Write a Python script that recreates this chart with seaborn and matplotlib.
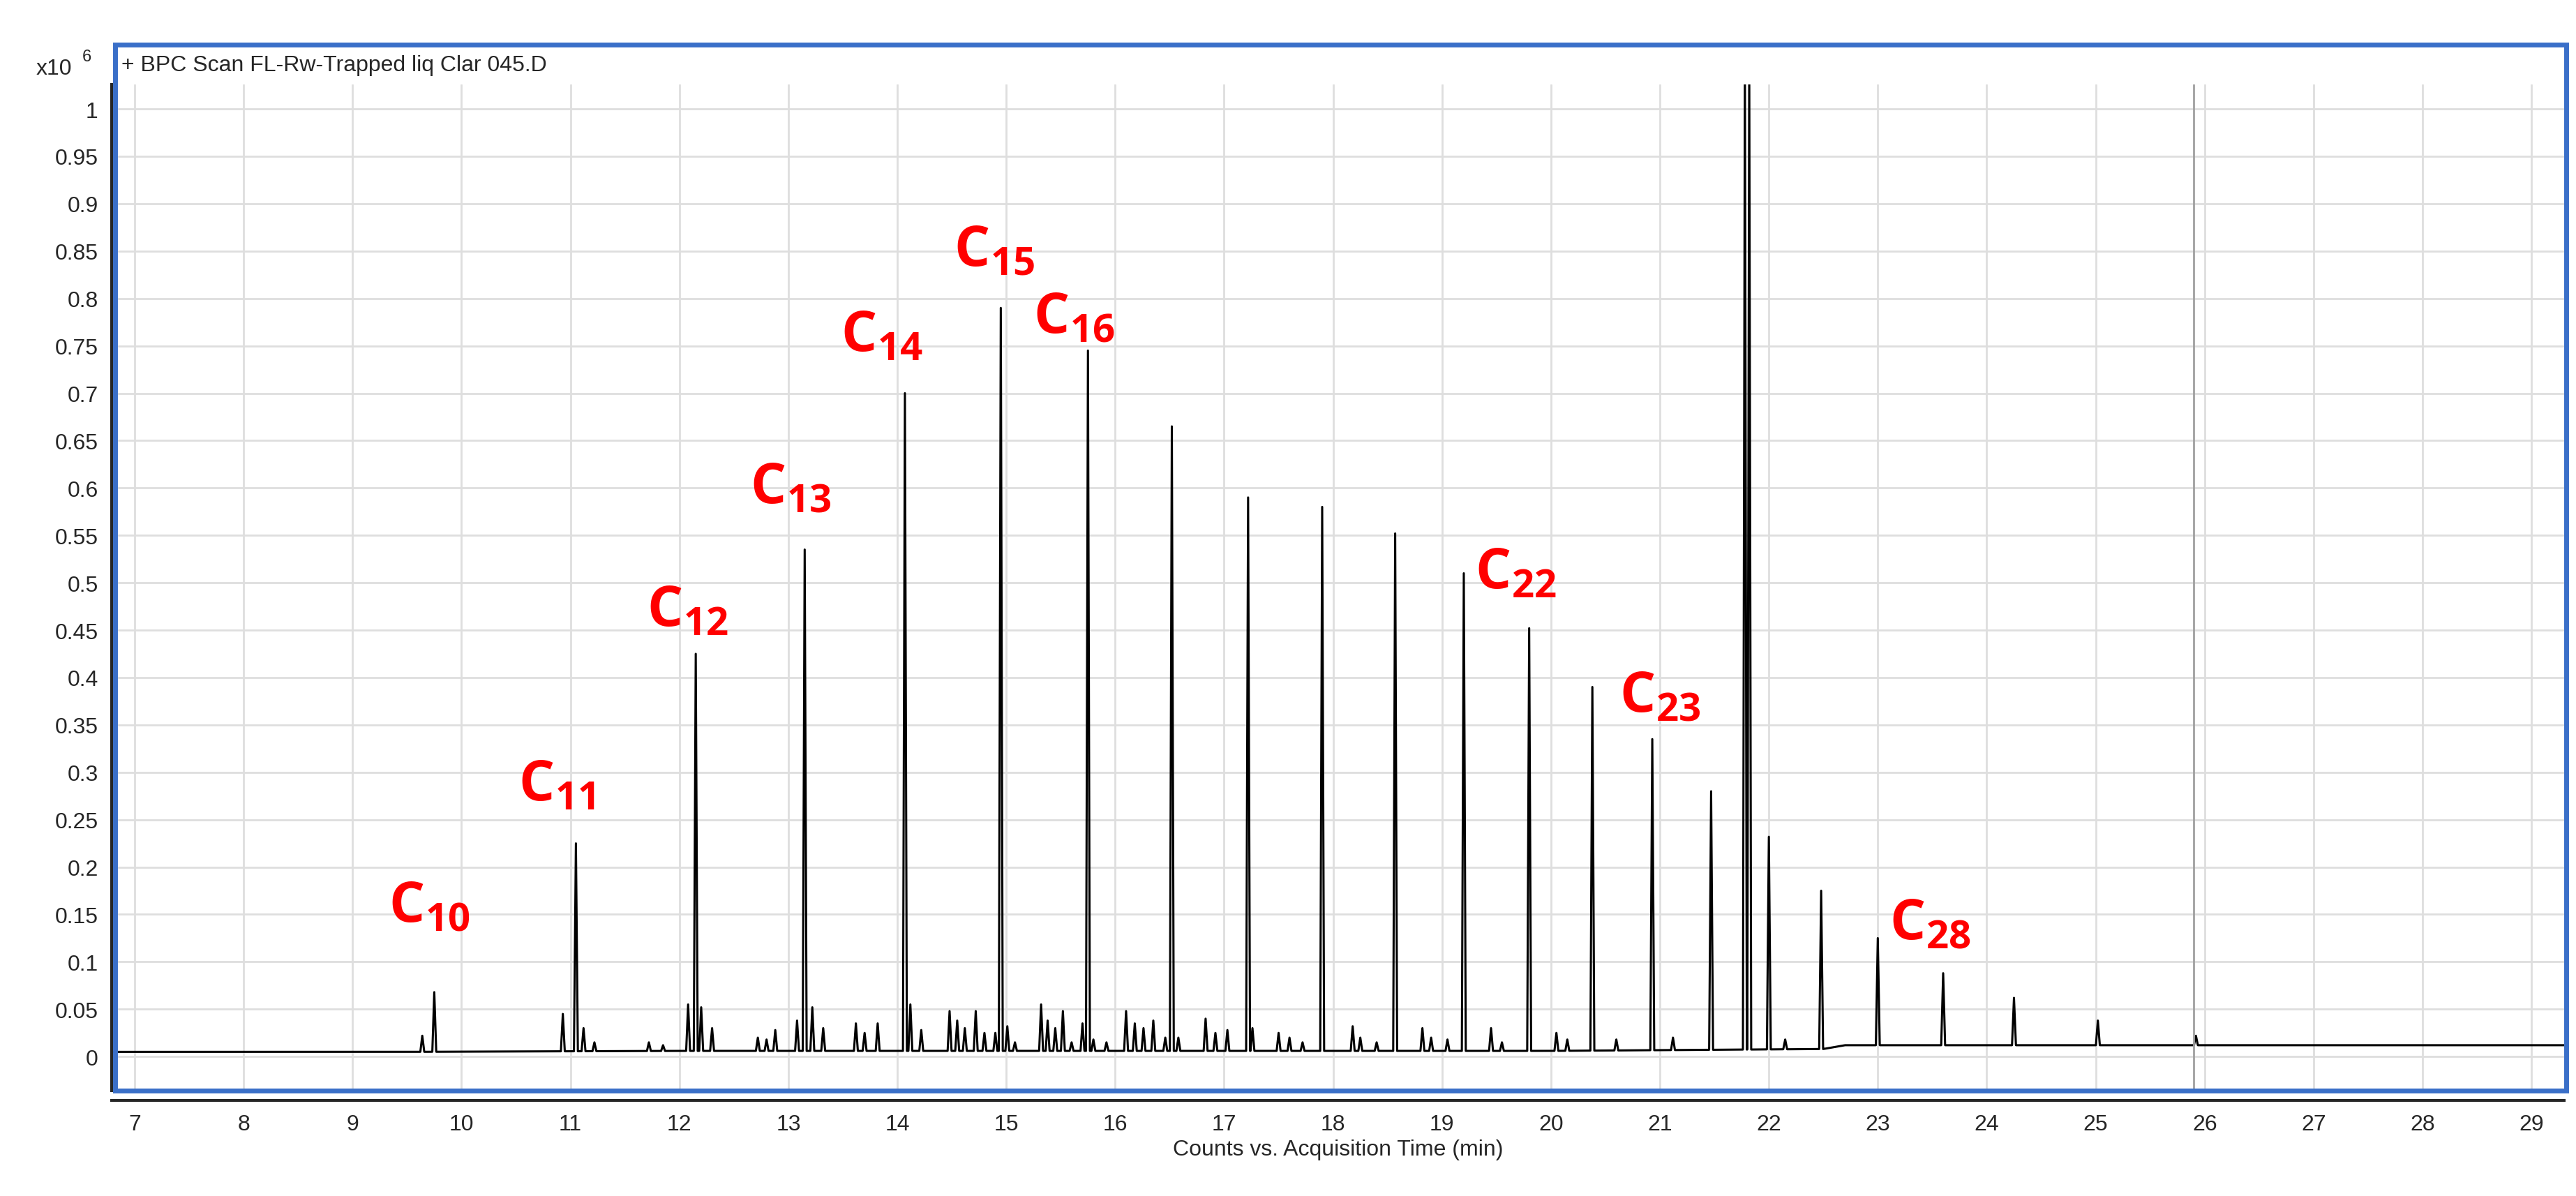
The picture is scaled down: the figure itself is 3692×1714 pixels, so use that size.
import numpy as np
import pandas as pd
import matplotlib
matplotlib.use("Agg")
import matplotlib.pyplot as plt
import seaborn as sns
from matplotlib.patches import Rectangle

# main peaks: retention time (min), height (x10^6 counts)
peak_times = [9.64, 9.75, 10.93, 11.05, 11.12, 11.22, 11.72, 11.85, 12.08, 12.15, 12.20, 12.30,
              12.72, 12.80, 12.88, 13.08, 13.15, 13.22, 13.32, 13.62, 13.70, 13.82,
              14.07, 14.12, 14.22, 14.48, 14.55, 14.62, 14.72, 14.80, 14.90, 14.95, 15.01, 15.08,
              15.32, 15.38, 15.45, 15.52, 15.60, 15.70, 15.75, 15.80, 15.92, 16.10, 16.18, 16.26, 16.35,
              16.46, 16.52, 16.58, 16.83, 16.92, 17.03, 17.22, 17.26, 17.50, 17.60, 17.72,
              17.90, 18.18, 18.25, 18.40, 18.57, 18.82, 18.90, 19.05, 19.20, 19.45, 19.55,
              19.80, 20.05, 20.15, 20.38, 20.60, 20.93, 21.12, 21.47, 21.78, 21.82, 22.00, 22.15,
              22.48, 23.00, 23.60, 24.25, 25.02, 25.92]
peak_heights = [0.022, 0.068, 0.045, 0.225, 0.030, 0.015, 0.015, 0.012, 0.055, 0.425, 0.052, 0.030,
                0.020, 0.018, 0.028, 0.038, 0.535, 0.052, 0.030, 0.035, 0.025, 0.035,
                0.700, 0.055, 0.028, 0.048, 0.038, 0.030, 0.048, 0.025, 0.025, 0.790, 0.032, 0.015,
                0.055, 0.038, 0.030, 0.048, 0.015, 0.035, 0.745, 0.018, 0.015, 0.048, 0.035, 0.030, 0.038,
                0.020, 0.665, 0.020, 0.040, 0.025, 0.028, 0.590, 0.030, 0.025, 0.020, 0.015,
                0.580, 0.032, 0.020, 0.015, 0.552, 0.030, 0.020, 0.018, 0.510, 0.030, 0.015,
                0.452, 0.025, 0.018, 0.390, 0.018, 0.335, 0.020, 0.280, 1.050, 1.050, 0.232, 0.018,
                0.175, 0.125, 0.088, 0.062, 0.038, 0.022]
baseline_times = [6.8, 9.5, 12.0, 16.0, 20.0, 22.5, 22.7, 29.3]
baseline_levels = [0.005, 0.005, 0.006, 0.006, 0.006, 0.008, 0.012, 0.012]

label_names = ["10", "11", "12", "13", "14", "15", "16", "22", "23", "28"]
label_x = [9.33, 10.52, 11.70, 12.65, 13.48, 14.52, 15.25, 19.30, 20.63, 23.11]
label_y = [0.158, 0.286, 0.47, 0.60, 0.76, 0.85, 0.78, 0.51, 0.38, 0.14]

y_ticks = [0, 0.05, 0.1, 0.15, 0.2, 0.25, 0.3, 0.35, 0.4, 0.45, 0.5, 0.55, 0.6, 0.65,
           0.7, 0.75, 0.8, 0.85, 0.9, 0.95, 1]
y_labels = ["0", "0.05", "0.1", "0.15", "0.2", "0.25", "0.3", "0.35", "0.4", "0.45", "0.5",
            "0.55", "0.6", "0.65", "0.7", "0.75", "0.8", "0.85", "0.9", "0.95", "1"]
x_ticks = list(range(7, 30))

# build trace: baseline plus narrow triangular peaks
half_w = 0.018
pts_x = list(baseline_times)
pts_y = list(baseline_levels)
for t, h in zip(peak_times, peak_heights):
    b = np.interp(t, baseline_times, baseline_levels)
    pts_x += [t - half_w, t, t + half_w]
    pts_y += [b, h, b]
trace = pd.DataFrame({"time": pts_x, "counts": pts_y}).sort_values("time")

sns.set_style("white")
plt.rcParams["font.family"] = ["Liberation Sans Narrow", "Liberation Sans", "DejaVu Sans"]
plt.rcParams["mathtext.default"] = "regular"

fig = plt.figure(figsize=(36.92, 17.15), dpi=100)
ax = fig.add_axes([0.0434, 0.088, 0.952, 0.841])

ax.grid(True, color="#dedede", linewidth=2)
ax.set_axisbelow(True)
sns.lineplot(data=trace, x="time", y="counts", color="black", linewidth=2.2, ax=ax,
             estimator=None, sort=False)
ax.axvline(25.9, color="#a0a0a0", linewidth=2)

ax.set_xlim(6.79, 29.3)
ax.set_ylim(-0.036, 1.026)
ax.set_yticks(y_ticks)
ax.set_yticklabels(y_labels)
ax.set_xticks(x_ticks)
ax.tick_params(labelsize=23, length=8, width=2, direction="out", pad=6)
ax.set_xlabel("Counts vs. Acquisition Time (min)", fontsize=23, labelpad=4)
ax.set_ylabel("")
for s in ["top", "right"]:
    ax.spines[s].set_visible(False)
ax.spines["left"].set_linewidth(3)
ax.spines["bottom"].set_linewidth(3)
ax.spines["bottom"].set_position(("outward", 10))

for n, lx, ly in zip(label_names, label_x, label_y):
    ax.text(lx, ly, "C$_{" + n + "}$", color="#ff0000", fontsize=58, fontweight="bold",
            family=["Open Sans", "DejaVu Sans"], va="center", ha="left")

# blue frame around the plot panel
fig.patches.append(Rectangle((0.0447, 0.088), 0.9515, 0.874, transform=fig.transFigure,
                             fill=False, edgecolor="#3a6fc8", linewidth=5))
fig.text(0.047, 0.945, "+ BPC Scan FL-Rw-Trapped liq Clar 045.D", fontsize=23, va="center")
fig.text(0.014, 0.942, "x10", fontsize=23, va="center")
fig.text(0.032, 0.952, "6", fontsize=17, va="center")

fig.savefig("out.png", dpi=100)
